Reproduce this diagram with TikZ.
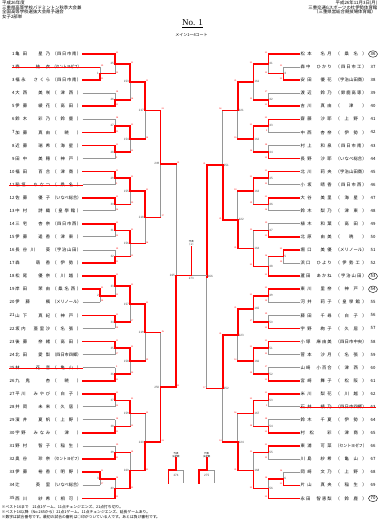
\documentclass[tikz,border=0pt]{standalone}
\usepackage{fontspec}
\usepackage{graphicx}
\setmainfont{Noto Sans CJK JP}
\newfontfamily\titlefont{Liberation Serif}
\usetikzlibrary{calc,shapes.geometric}
\definecolor{lgray}{RGB}{150,150,150}

\def\spA#1#2\endsp{#1\ifx\relax#2\relax\else\hfill\spA#2\endsp\fi}
\newcommand\spr[2]{\setbox0\hbox{#2}\ifdim\wd0>#1\relax\resizebox{#1}{\height}{\box0}\else\makebox[#1][s]{\spA#2\endsp}\fi}

\newcommand\PL[3]{%
  \pgfmathsetmacro\yy{54+(#1-1)*13.07}%
  \node[num,anchor=east] (n#1) at (15,\yy) {#1};
  \node[pl,anchor=east] (p#1) at (82.5,\yy) {\spr{35pt}{#2}\hspace{2pt}\spr{29pt}{（#3）}};
}
\newcommand\PR[4]{%
  \pgfmathsetmacro\yy{54+(#1-36)*13.07}%
  \node[pl,anchor=west] (p#1) at (299.5,\yy) {\spr{31pt}{#2}\hspace{4pt}\spr{31pt}{（#3）}};
  \node[num,#4] (n#1) at (373,\yy) {#1};
}
% name, x, entryA, entryB, styleA, styleB, winner(1/2), label, loser score
\newcommand\mtch[9]{%
  \path let \p1=(#3), \p2=(#4) in coordinate (#1) at (#2pt,{0.5*\y1+0.5*\y2});
  \ifnum#7=1
    \draw[lose] (#4 -| #1) -- (#1);
    \draw[#6] (#4) -- (#4 -| #1);
    \draw[#5] (#3) -- (#3 -| #1);
    \draw[win] (#3 -| #1) -- (#1);
    \node[score,scpos] (s#1a) at (#3 -| #1) {21};
    \node[score,scpos] (s#1b) at (#4 -| #1) {#9};
  \else
    \draw[lose] (#3 -| #1) -- (#1);
    \draw[#5] (#3) -- (#3 -| #1);
    \draw[#6] (#4) -- (#4 -| #1);
    \draw[win] (#4 -| #1) -- (#1);
    \node[score,scpos] (s#1a) at (#3 -| #1) {#9};
    \node[score,scpos] (s#1b) at (#4 -| #1) {21};
  \fi
  \node[mlab,labpos] (l#1) at (#1) {#8};
}

\begin{document}
\begin{tikzpicture}[x=1pt,y=-1pt,
  win/.style={draw=red,line width=1.6pt,line cap=rect},
  lose/.style={draw=lgray,line width=1pt},
  pl/.style={inner xsep=1pt,inner ysep=0pt,font=\fontsize{4.3}{5}\selectfont},
  num/.style={inner sep=0.3pt,font=\fontsize{4.3}{5}\selectfont},
  seed/.style={draw,ellipse,inner xsep=0.6pt,inner ysep=0.2pt,line width=0.4pt,minimum width=9pt,minimum height=6.5pt},
  mlab/.style={font=\fontsize{3}{3.5}\selectfont,text=black!70,inner sep=0.6pt},
  score/.style={font=\fontsize{2.2}{2.5}\selectfont,text=red,inner sep=0.2pt},
  strike/.style={draw=red,line width=0.35pt},
  hdr/.style={font=\fontsize{4.4}{4.8}\selectfont,inner sep=0pt},
  note/.style={font=\fontsize{3.8}{4.2}\selectfont,inner sep=0pt},
  champ/.style={font=\fontsize{2.4}{2.8}\selectfont,align=center,inner sep=0.3pt}]
\useasboundingbox (0,0) rectangle (380,528);
\fill[white] (0,0) rectangle (380,528);

% header
\node[hdr,anchor=west] (h1) at (2,3.2) {平成26年度};
\node[hdr,anchor=west] (h2) at (2,7.6) {三重県高等学校バドミントン秋季大会兼};
\node[hdr,anchor=west] (h3) at (2,12) {全国高等学校選抜大会県予選会};
\node[hdr,anchor=west] (h4) at (2,16.4) {女子2部単};
\node[hdr,anchor=east] (r1) at (377.5,3.2) {平成26年11月3日(月)};
\node[hdr,anchor=east] (r2) at (377.5,7.6) {三重交通Gスポーツの杜伊勢体育館};
\node[hdr,anchor=east] (r3) at (376,12) {（三重県営総合競技場体育館）};
\node[font=\titlefont\fontsize{9}{10}\selectfont,inner sep=0pt] (title) at (192.5,23.5) {\underline{No. 1}};
\node[font=\fontsize{4}{4.5}\selectfont,inner sep=0pt] (court) at (191.5,35) {メイン1～4コート};

% players left
\PL{1}{亀田　星乃}{四日市南}
\PL{2}{森　結衣}{セントヨゼフ}
\PL{3}{福永　さくら}{四日市南}
\PL{4}{大西　美咲}{津西}
\PL{5}{伊藤　綾花}{高田}
\PL{6}{鈴木　彩乃}{鈴鹿}
\PL{7}{加藤　真由}{暁}
\PL{8}{近藤　瑞希}{海星}
\PL{9}{田中　美穂}{神戸}
\PL{10}{福田　百合}{津商}
\PL{11}{稲垣　ちなつ}{桑名}
\PL{12}{佐藤　優子}{いなべ総合}
\PL{13}{中村　詩織}{皇學館}
\PL{14}{三宅　杏奈}{四日市西}
\PL{15}{伊藤　遥香}{津東}
\PL{16}{長谷川　葵}{宇治山田}
\PL{17}{森　萌香}{伊勢}
\PL{18}{松尾　優奈}{川越}
\PL{19}{岸田　茉由}{桑名西}
\PL{20}{伊藤　楓}{メリノール}
\PL{21}{山下　真紀}{神戸}
\PL{22}{坂内　亜里沙}{名張}
\PL{23}{後藤　奈緒}{高田}
\PL{24}{北田　愛梨}{四日市四郷}
\PL{25}{林　花音}{亀山}
\PL{26}{九鬼　杏}{暁}
\PL{27}{平川　みやび}{白子}
\PL{28}{井岡　未来}{久居}
\PL{29}{濱井　夏帆}{上野}
\PL{30}{宇野　みなみ}{津}
\PL{31}{野村　智子}{稲生}
\PL{32}{奥谷　玲奈}{セントヨゼフ}
\PL{33}{伊藤　裕香}{明野}
\PL{34}{辻　英里}{いなべ総合}
\PL{35}{西川　紗希}{相可}

% players right
\PR{36}{松本　名月}{桑名}{seed}
\PR{37}{森中　ひかり}{四日市工}{}
\PR{38}{安田　優花}{宇治山田商}{}
\PR{39}{渡辺　鈴乃}{鈴鹿高専}{}
\PR{40}{吉川　真由}{津}{}
\PR{41}{齋藤　沙耶}{上野}{}
\PR{42}{中西　杏奈}{伊勢}{}
\PR{43}{村上　和泉}{四日市南}{}
\PR{44}{長野　沙耶}{いなべ総合}{}
\PR{45}{北川　莉央}{宇治山田商}{}
\PR{46}{小坂　晴香}{四日市西}{}
\PR{47}{大谷　美里}{海星}{}
\PR{48}{鈴木　梨乃}{津東}{}
\PR{49}{植木　和葉}{高田}{}
\PR{50}{北原　由美}{暁}{}
\PR{51}{堀口　美優}{メリノール}{}
\PR{52}{浜口　ひより}{伊勢工}{}
\PR{53}{蘆田　あかね}{宇治山田}{seed}
\PR{54}{東川　里奈}{神戸}{seed}
\PR{55}{河井　莉子}{皇學館}{}
\PR{56}{藤田　千尋}{白子}{}
\PR{57}{宇野　絢子}{久居}{}
\PR{58}{小塚　麻由美}{四日市中央}{}
\PR{59}{菅本　沙月}{名張}{}
\PR{60}{山崎　小百合}{津西}{}
\PR{61}{宮崎　舞子}{松阪}{}
\PR{62}{米川　梨花}{川越}{}
\PR{63}{石井　綾乃}{四日市四郷}{}
\PR{64}{鈴木　千夏}{伊勢}{}
\PR{65}{村松　彩}{津商}{}
\PR{66}{東浦　可菜}{セントヨゼフ}{}
\PR{67}{川島　紗希}{亀山}{}
\PR{68}{岡崎　文乃}{上野}{}
\PR{69}{片山　真央}{稲生}{}
\PR{70}{永田　智恵梨}{鈴鹿}{seed}

% left bracket
\begin{scope}[labpos/.style={anchor=east,xshift=-0.3pt},scpos/.style={anchor=south west,xshift=0.6pt}]
\mtch{m1}{100}{p2.east}{p3.east}{lose}{win}{2}{1}{10}
\mtch{m2}{100}{p19.east}{p20.east}{win}{lose}{1}{2}{14}
\mtch{m3}{100}{p33.east}{p34.east}{win}{lose}{1}{3}{17}
\mtch{m25}{115}{p1.east}{m1}{win}{win}{1}{25}{12}
\mtch{m26}{115}{p4.east}{p5.east}{lose}{win}{2}{26}{15}
\mtch{m27}{115}{p6.east}{p7.east}{lose}{win}{2}{27}{18}
\mtch{m28}{115}{p8.east}{p9.east}{win}{lose}{1}{28}{9}
\mtch{m29}{115}{p10.east}{p11.east}{win}{lose}{1}{29}{0}
\mtch{m30}{115}{p12.east}{p13.east}{win}{lose}{1}{30}{16}
\mtch{m31}{115}{p14.east}{p15.east}{win}{lose}{1}{31}{13}
\mtch{m32}{115}{p16.east}{p17.east}{lose}{win}{2}{32}{19}
\mtch{m33}{115}{p18.east}{m2}{win}{win}{1}{33}{11}
\mtch{m34}{115}{p21.east}{p22.east}{win}{lose}{1}{34}{14}
\mtch{m35}{115}{p23.east}{p24.east}{win}{lose}{1}{35}{17}
\mtch{m36}{115}{p25.east}{p26.east}{lose}{win}{2}{36}{0}
\mtch{m37}{115}{p27.east}{p28.east}{win}{lose}{1}{37}{12}
\mtch{m38}{115}{p29.east}{p30.east}{lose}{win}{2}{38}{15}
\mtch{m39}{115}{p31.east}{p32.east}{lose}{win}{2}{39}{10}
\mtch{m40}{115}{m3}{p35.east}{win}{win}{2}{40}{18}
\mtch{m153}{130}{m25}{m26}{win}{win}{1}{153}{16}
\mtch{m154}{130}{m27}{m28}{win}{win}{1}{154}{13}
\mtch{m155}{130}{m29}{m30}{win}{win}{1}{155}{19}
\mtch{m156}{130}{m31}{m32}{win}{win}{1}{156}{11}
\mtch{m157}{130}{m33}{m34}{win}{win}{1}{157}{17}
\mtch{m158}{130}{m35}{m36}{win}{win}{1}{158}{14}
\mtch{m159}{130}{m37}{m38}{win}{win}{1}{159}{12}
\mtch{m160}{130}{m39}{m40}{win}{win}{2}{160}{15}
\mtch{m217}{145}{m153}{m154}{win}{win}{1}{217}{18}
\mtch{m218}{145}{m155}{m156}{win}{win}{1}{218}{16}
\mtch{m219}{145}{m157}{m158}{win}{win}{1}{219}{19}
\mtch{m220}{145}{m159}{m160}{win}{win}{2}{220}{13}
\mtch{m249}{160.5}{m217}{m218}{win}{win}{1}{249}{17}
\mtch{m250}{160.5}{m219}{m220}{win}{win}{2}{250}{15}
\mtch{m265}{176}{m249}{m250}{win}{win}{2}{265}{19}
\end{scope}

% right bracket
\begin{scope}[labpos/.style={anchor=west,xshift=0.3pt},scpos/.style={anchor=south east,xshift=-0.6pt}]
\mtch{m4}{283.3}{p37.west}{p38.west}{lose}{win}{2}{4}{11}
\mtch{m5}{283.3}{p51.west}{p52.west}{win}{lose}{1}{5}{14}
\mtch{m6}{283.3}{p68.west}{p69.west}{lose}{win}{2}{6}{16}
\mtch{m41}{268.3}{p36.west}{m4}{win}{win}{1}{41}{12}
\mtch{m42}{268.3}{p39.west}{p40.west}{lose}{win}{2}{42}{17}
\mtch{m43}{268.3}{p41.west}{p42.west}{win}{lose}{1}{43}{9}
\mtch{m44}{268.3}{p43.west}{p44.west}{lose}{win}{2}{44}{15}
\mtch{m45}{268.3}{p45.west}{p46.west}{win}{lose}{1}{45}{13}
\mtch{m46}{268.3}{p47.west}{p48.west}{win}{lose}{1}{46}{18}
\mtch{m47}{268.3}{p49.west}{p50.west}{lose}{win}{2}{47}{10}
\mtch{m48}{268.3}{m5}{p53.west}{win}{win}{2}{48}{16}
\mtch{m49}{268.3}{p54.west}{p55.west}{win}{lose}{1}{49}{14}
\mtch{m50}{268.3}{p56.west}{p57.west}{lose}{win}{2}{50}{19}
\mtch{m51}{268.3}{p58.west}{p59.west}{win}{lose}{1}{51}{12}
\mtch{m52}{268.3}{p60.west}{p61.west}{lose}{win}{2}{52}{17}
\mtch{m53}{268.3}{p62.west}{p63.west}{win}{lose}{1}{53}{0}
\mtch{m54}{268.3}{p64.west}{p65.west}{lose}{win}{2}{54}{15}
\mtch{m55}{268.3}{p66.west}{p67.west}{win}{lose}{1}{55}{11}
\mtch{m56}{268.3}{m6}{p70.west}{win}{win}{2}{56}{18}
\mtch{m161}{253.3}{m41}{m42}{win}{win}{1}{161}{13}
\mtch{m162}{253.3}{m43}{m44}{win}{win}{1}{162}{16}
\mtch{m163}{253.3}{m45}{m46}{win}{win}{1}{163}{19}
\mtch{m164}{253.3}{m47}{m48}{win}{win}{2}{164}{12}
\mtch{m165}{253.3}{m49}{m50}{win}{win}{1}{165}{17}
\mtch{m166}{253.3}{m51}{m52}{win}{win}{1}{166}{14}
\mtch{m167}{253.3}{m53}{m54}{win}{win}{1}{167}{18}
\mtch{m168}{253.3}{m55}{m56}{win}{win}{2}{168}{11}
\mtch{m221}{237.7}{m161}{m162}{win}{win}{1}{221}{15}
\mtch{m222}{237.7}{m163}{m164}{win}{win}{2}{222}{19}
\mtch{m223}{237.7}{m165}{m166}{win}{win}{1}{223}{13}
\mtch{m224}{237.7}{m167}{m168}{win}{win}{2}{224}{16}
\mtch{m251}{222.7}{m221}{m222}{win}{win}{2}{251}{18}
\mtch{m252}{222.7}{m223}{m224}{win}{win}{1}{252}{14}
\mtch{m266}{206.7}{m251}{m252}{win}{win}{1}{266}{17}
\end{scope}

% final
\coordinate (fx) at (191.3,0);
\coordinate (m273) at (m265 -| fx);
\draw[lose] (m273) -- (m273 -| m266);
\draw[win] (m265) -- (m273);
\node[mlab,anchor=north,inner sep=1.2pt] (lm273) at (m273) {273};
\node[champ] (champ) at (191.3,243.5) {代表\\（１）};
\draw[win] (m273) -- (champ.south);

% small placement brackets
\node[champ] (qa) at (176,455) {代表\\決定戦};
\coordinate (qa0) at (176,470);
\coordinate (qaL) at (168.5,470);
\coordinate (qaR) at (183.5,470);
\coordinate (qaLb) at (168.5,483);
\coordinate (qaRb) at (183.5,483);
\draw[lose] (qa0) -- (qaR) -- (qaRb);
\draw[win] (qa.south) -- (qa0) -- (qaL) -- (qaLb);
\node[mlab] (qal) at (176,475) {274};

\node[champ] (qb) at (206.7,455) {代表\\決定戦};
\coordinate (qb0) at (206.7,470);
\coordinate (qbL) at (199.2,470);
\coordinate (qbR) at (214.2,470);
\coordinate (qbLb) at (199.2,483);
\coordinate (qbRb) at (214.2,483);
\draw[lose] (qb0) -- (qbR) -- (qbRb);
\draw[win] (qb.south) -- (qb0) -- (qbL) -- (qbLb);
\node[mlab] (qbl) at (206.7,475) {275};

% withdrawn players
\draw[strike] (n2.west) -- (p2.east -| m1);
\draw[strike] (n11.west) -- (p11.east);
\draw[strike] (n25.west) -- (p25.east);
\draw[strike] (p63.west) -- (n63.east);

% notes
\node[note,anchor=west] (nt1) at (1.5,507) {※ベスト16まで　21点1ゲーム、11点チェンジエンズ、21点打ち切り。};
\node[note,anchor=west] (nt2) at (1.5,512) {※ベスト16以降（No.265から）21点1ゲーム、11点チェンジエンズ、延長ゲームあり。};
\node[note,anchor=west] (nt3) at (1.5,517) {※数字は試合番号です。最初の試合の審判は○印がついている人です。あとは負け審判です。};
\end{tikzpicture}
\end{document}
